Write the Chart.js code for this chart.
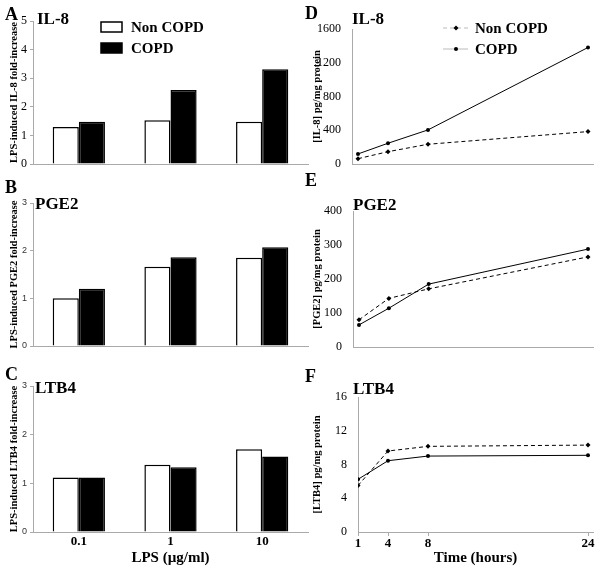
<!DOCTYPE html>
<html>
<head>
<meta charset="utf-8">
<script src="https://cdn.jsdelivr.net/npm/chart.js@4"></script>
<style>
  body { margin: 0; background: #fff; }
  #page { position: relative; width: 600px; height: 570px; overflow: hidden; }
  .panel { position: absolute; }
  .lbl { position: absolute; font-family: 'Liberation Serif', serif; font-weight: bold; line-height: 1; color: #000; white-space: nowrap; }
  .letter { font-size: 18px; }
  .ttl { font-size: 17px; }
</style>
</head>
<body>
<div id="page">
  <div class="panel" style="left:0;top:0;width:310px;height:185px"><canvas id="chartA"></canvas></div>
  <div class="panel" style="left:0;top:185px;width:310px;height:185px"><canvas id="chartB"></canvas></div>
  <div class="panel" style="left:0;top:370px;width:310px;height:200px"><canvas id="chartC"></canvas></div>
  <div class="panel" style="left:300px;top:0;width:300px;height:185px"><canvas id="chartD"></canvas></div>
  <div class="panel" style="left:300px;top:185px;width:300px;height:185px"><canvas id="chartE"></canvas></div>
  <div class="panel" style="left:300px;top:370px;width:300px;height:200px"><canvas id="chartF"></canvas></div>

  <div class="lbl letter" style="left:5px;top:5px">A</div>
  <div class="lbl letter" style="left:5px;top:178px">B</div>
  <div class="lbl letter" style="left:5px;top:365px">C</div>
  <div class="lbl letter" style="left:305px;top:4px">D</div>
  <div class="lbl letter" style="left:305px;top:171px">E</div>
  <div class="lbl letter" style="left:305px;top:367px">F</div>

  <div class="lbl ttl" style="left:37px;top:10px">IL-8</div>
  <div class="lbl ttl" style="left:35px;top:195px">PGE2</div>
  <div class="lbl ttl" style="left:35px;top:379px">LTB4</div>
  <div class="lbl ttl" style="left:352px;top:10px">IL-8</div>
  <div class="lbl ttl" style="left:353px;top:196px">PGE2</div>
  <div class="lbl ttl" style="left:353px;top:380px">LTB4</div>
</div>
<script>
const lpsDoses = ['0.1', '1', '10'];
const il8FoldNon = [1.29, 1.53, 1.48];
const il8FoldCopd = [1.48, 2.59, 3.31];
const pge2FoldNon = [1.0, 1.66, 1.85];
const pge2FoldCopd = [1.2, 1.86, 2.07];
const ltb4FoldNon = [1.12, 1.38, 1.70];
const ltb4FoldCopd = [1.12, 1.33, 1.55];

const hours = [1, 4, 8, 24];
const il8Non = [63, 146, 234, 384];
const il8Copd = [119, 246, 404, 1381];
const pge2Non = [80, 143, 171, 265];
const pge2Copd = [65, 114, 185, 288];
const ltb4Non = [5.5, 9.6, 10.15, 10.3];
const ltb4Copd = [6.24, 8.45, 9.0, 9.09];

const seriesNames = ['Non COPD', 'COPD'];

const serif = 'Liberation Serif';
const sans = 'Liberation Sans';
const axisGray = '#aaa';

// legend drawn inside the plot, like the original figure
const panelLegend = {
  id: 'panelLegend',
  afterDraw(chart, args, opts) {
    if (!opts.show) return;
    const ctx = chart.ctx;
    ctx.save();
    ctx.font = 'bold 15px ' + serif;
    ctx.textBaseline = 'middle';
    chart.data.datasets.forEach((ds, i) => {
      const y = opts.y + i * opts.gap;
      if (opts.kind === 'box') {
        ctx.fillStyle = ds.backgroundColor;
        ctx.fillRect(opts.x, y - 5, 21, 10);
        ctx.lineWidth = 1.5;
        ctx.strokeStyle = '#000';
        ctx.strokeRect(opts.x, y - 5, 21, 10);
        ctx.fillStyle = '#000';
        ctx.fillText(ds.label, opts.x + 30, y + 1);
      } else {
        ctx.strokeStyle = '#bbb';
        ctx.lineWidth = 1;
        ctx.setLineDash(ds.borderDash || []);
        ctx.beginPath();
        ctx.moveTo(opts.x, y);
        ctx.lineTo(opts.x + 25, y);
        ctx.stroke();
        ctx.setLineDash([]);
        ctx.fillStyle = '#000';
        ctx.beginPath();
        if (ds.pointStyle === 'rectRot') {
          ctx.moveTo(opts.x + 13, y - 2.5);
          ctx.lineTo(opts.x + 15.5, y);
          ctx.lineTo(opts.x + 13, y + 2.5);
          ctx.lineTo(opts.x + 10.5, y);
        } else {
          ctx.arc(opts.x + 13, y, 2, 0, Math.PI * 2);
        }
        ctx.fill();
        ctx.fillText(ds.label, opts.x + 32, y + 1);
      }
    });
    ctx.restore();
  }
};

function barPanel(id, title, non, copd, max, o) {
  new Chart(document.getElementById(id), {
    type: 'bar',
    data: {
      labels: lpsDoses,
      datasets: [
        { label: seriesNames[0], data: non, backgroundColor: '#fff', borderColor: '#000', borderWidth: 1.5 },
        { label: seriesNames[1], data: copd, backgroundColor: '#000', borderColor: '#000', borderWidth: 1.5 }
      ]
    },
    options: {
      responsive: true,
      maintainAspectRatio: false,
      animation: false,
      layout: { padding: { top: o.top, right: 2, left: 0, bottom: 0 } },
      datasets: { bar: { categoryPercentage: 0.57, barPercentage: 1 } },
      scales: {
        x: {
          grid: { display: false, drawTicks: false },
          border: { display: true, color: axisGray },
          ticks: { display: o.xLabels, color: '#000', font: { family: serif, size: 13, weight: 'bold' }, padding: 2 },
          title: { display: o.xLabels, text: 'LPS (µg/ml)', color: '#000', font: { family: serif, size: 15, weight: 'bold' }, padding: { top: 0, bottom: 3 } },
          afterFit: s => { s.height = o.xh; }
        },
        y: {
          min: 0, max: max,
          ticks: { stepSize: 1, color: o.tickColor, font: o.tickFont, padding: 3 },
          grid: { drawOnChartArea: false, tickLength: 3, color: axisGray },
          border: { display: true, color: axisGray },
          title: { display: true, text: title, color: '#000', font: { family: serif, size: 10.5, weight: 'bold' }, padding: { top: 8 } },
          afterFit: s => { s.width = 33; }
        }
      },
      plugins: {
        legend: { display: false },
        tooltip: { enabled: false },
        panelLegend: { show: !!o.legend, kind: 'box', x: 101, y: 27, gap: 21 }
      }
    },
    plugins: [panelLegend]
  });
}

function linePanel(id, title, non, copd, max, step, o) {
  const pts = arr => arr.map((v, i) => ({ x: hours[i], y: v }));
  new Chart(document.getElementById(id), {
    type: 'line',
    data: {
      datasets: [
        { label: seriesNames[0], data: pts(non), borderColor: '#000', borderWidth: 1, borderDash: [4, 3],
          pointStyle: 'rectRot', pointRadius: 2.5, pointBackgroundColor: '#000', pointBorderWidth: 0, tension: 0 },
        { label: seriesNames[1], data: pts(copd), borderColor: '#000', borderWidth: 1,
          pointStyle: 'circle', pointRadius: 2, pointBackgroundColor: '#000', pointBorderWidth: 0, tension: 0 }
      ]
    },
    options: {
      responsive: true,
      maintainAspectRatio: false,
      animation: false,
      layout: { padding: { top: o.top, right: 7, left: 0, bottom: 0 } },
      scales: {
        x: {
          type: 'linear',
          min: o.xmin, max: 24.5,
          afterBuildTicks: s => { s.ticks = hours.map(v => ({ value: v })); },
          grid: { display: o.xLabels, drawOnChartArea: false, tickLength: 4, color: axisGray },
          border: { display: true, color: axisGray },
          ticks: { display: o.xLabels, color: '#000', font: { family: serif, size: 13, weight: 'bold' }, padding: 0 },
          title: { display: o.xLabels, text: 'Time (hours)', color: '#000', font: { family: serif, size: 15, weight: 'bold' }, padding: { top: 0, bottom: 3 } },
          afterFit: s => { s.height = o.xh; }
        },
        y: {
          min: 0, max: max,
          ticks: { stepSize: step, color: '#000', font: { family: serif, size: 12 }, padding: 3, callback: v => String(v) },
          grid: { display: false },
          border: { display: true, color: axisGray },
          title: { display: true, text: title, color: '#000', font: { family: serif, size: 10.5, weight: 'bold' }, padding: { top: 11 } },
          afterFit: s => { s.width = o.left; }
        }
      },
      plugins: {
        legend: { display: false },
        tooltip: { enabled: false },
        panelLegend: { show: !!o.legend, kind: 'line', x: 143, y: 28, gap: 21 }
      }
    },
    plugins: [panelLegend]
  });
}

barPanel('chartA', 'LPS-induced IL-8 fold-increase', il8FoldNon, il8FoldCopd, 5,
  { top: 21, xh: 21, xLabels: false, legend: true, tickColor: '#000', tickFont: { family: serif, size: 12 } });
barPanel('chartB', 'LPS-induced PGE2 fold-increase', pge2FoldNon, pge2FoldCopd, 3,
  { top: 18, xh: 24, xLabels: false, tickColor: '#333', tickFont: { family: sans, size: 9 } });
barPanel('chartC', 'LPS-induced LTB4 fold-increase', ltb4FoldNon, ltb4FoldCopd, 3,
  { top: 16, xh: 38, xLabels: true, tickColor: '#333', tickFont: { family: sans, size: 9 } });

linePanel('chartD', '[IL-8] pg/mg protein', il8Non, il8Copd, 1600, 400,
  { top: 29, xh: 21, left: 52, xmin: 0.4, xLabels: false, legend: true });
linePanel('chartE', '[PGE2] pg/mg protein', pge2Non, pge2Copd, 400, 100,
  { top: 26, xh: 23, left: 53, xmin: 0.4, xLabels: false });
linePanel('chartF', '[LTB4] pg/mg protein', ltb4Non, ltb4Copd, 16, 4,
  { top: 27, xh: 38, left: 58, xmin: 1, xLabels: true });
</script>
</body>
</html>
